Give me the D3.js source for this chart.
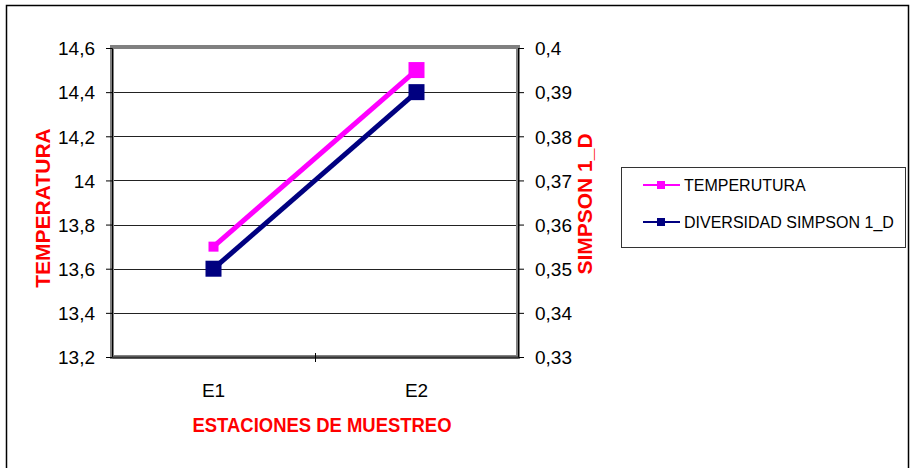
<!DOCTYPE html>
<html>
<head>
<meta charset="utf-8">
<script src="https://cdn.jsdelivr.net/npm/d3@7"></script>
<style>
  html, body { margin: 0; padding: 0; background: #fff; }
  svg { display: block; font-family: "Liberation Sans", Arial, sans-serif; }
</style>
</head>
<body>
<svg id="chart" width="911" height="468"></svg>
<script>
// Sampling stations and measured values
const stations = ["E1", "E2"];
const temperatura = [13.7, 14.5];
const simpson = [0.35, 0.39];
const leftTicks = [13.2, 13.4, 13.6, 13.8, 14.0, 14.2, 14.4, 14.6];
const rightTicks = [0.33, 0.34, 0.35, 0.36, 0.37, 0.38, 0.39, 0.40];
const seriesNames = ["TEMPERUTURA", "DIVERSIDAD SIMPSON 1_D"];

// Presentation
const pink = "#FF00FF", navy = "#000080";
const pinkMarker = [10, 16];
const navyMarker = [16, 16];
const fmt = v => d3.format("")(+v.toFixed(2)).replace(".", ",");

const svg = d3.select("#chart");
const plot = { left: 112, right: 518, top: 48, bottom: 357 };

// outer chart border
svg.append("rect").attr("x", 6.5).attr("y", 5.5).attr("width", 902).attr("height", 470)
  .attr("fill", "none").attr("stroke", "#000").attr("stroke-width", 1.5);

const x = d3.scaleBand().domain(stations).range([plot.left, plot.right]);
const yL = d3.scaleLinear().domain([13.2, 14.6]).range([plot.bottom, plot.top]);
const yR = d3.scaleLinear().domain([0.33, 0.40]).range([plot.bottom, plot.top]);

// gridlines
svg.append("g").selectAll("line").data(leftTicks.slice(1, -1)).join("line")
  .attr("x1", plot.left).attr("x2", plot.right)
  .attr("y1", d => Math.round(yL(d)) + 0.5).attr("y2", d => Math.round(yL(d)) + 0.5)
  .attr("stroke", "#222").attr("stroke-width", 1);

// plot frame
svg.append("rect").attr("x", plot.left).attr("y", plot.top - 1)
  .attr("width", plot.right - plot.left).attr("height", plot.bottom - plot.top + 1)
  .attr("fill", "none").attr("stroke", "#808080").attr("stroke-width", 4);

// left axis
const leftAxis = svg.append("g").attr("transform", `translate(${plot.left},0)`)
  .call(d3.axisLeft(yL).tickValues(leftTicks).tickSize(6).tickFormat(fmt));
leftAxis.select(".domain").attr("stroke", "#000");
leftAxis.selectAll(".tick line").attr("stroke", "#000").attr("x2", -6);
leftAxis.selectAll(".tick text").attr("font-size", 19).attr("font-family", "Liberation Sans, Arial, sans-serif")
  .attr("x", -17).attr("dy", "0.36em").attr("fill", "#000");

// right axis
const rightAxis = svg.append("g").attr("transform", `translate(${plot.right},0)`)
  .call(d3.axisRight(yR).tickValues(rightTicks).tickSize(6).tickFormat(fmt));
rightAxis.select(".domain").attr("stroke", "#000");
rightAxis.selectAll(".tick line").attr("stroke", "#000");
rightAxis.selectAll(".tick text").attr("font-size", 19).attr("font-family", "Liberation Sans, Arial, sans-serif")
  .attr("x", 17).attr("dy", "0.36em").attr("fill", "#000");

// bottom axis
const bottomAxis = svg.append("g").attr("transform", `translate(0,${plot.bottom})`)
  .call(d3.axisBottom(x).tickSize(0).tickPadding(0));
bottomAxis.select(".domain").attr("stroke", "#333").attr("stroke-width", 2);
bottomAxis.selectAll(".tick text").attr("font-size", 19).attr("font-family", "Liberation Sans, Arial, sans-serif")
  .attr("y", 40).attr("dy", 0).attr("fill", "#000");
// category divider tick
svg.append("line").attr("x1", x("E2") + 0.5).attr("x2", x("E2") + 0.5)
  .attr("y1", plot.bottom - 4).attr("y2", plot.bottom + 5).attr("stroke", "#000");

// series
const cx = d => x(d) + x.bandwidth() / 2;
const lineL = d3.line().x((d, i) => cx(stations[i])).y(d => yL(d));
const lineR = d3.line().x((d, i) => cx(stations[i])).y(d => yR(d));

svg.append("path").datum(temperatura).attr("d", lineL)
  .attr("fill", "none").attr("stroke", pink).attr("stroke-width", 5);
svg.append("g").selectAll("rect").data(temperatura).join("rect")
  .attr("x", (d, i) => cx(stations[i]) - pinkMarker[i] / 2)
  .attr("y", (d, i) => yL(d) - pinkMarker[i] / 2)
  .attr("width", (d, i) => pinkMarker[i]).attr("height", (d, i) => pinkMarker[i])
  .attr("fill", pink);

svg.append("path").datum(simpson).attr("d", lineR)
  .attr("fill", "none").attr("stroke", navy).attr("stroke-width", 5);
svg.append("g").selectAll("rect").data(simpson).join("rect")
  .attr("x", (d, i) => cx(stations[i]) - navyMarker[i] / 2)
  .attr("y", (d, i) => yR(d) - navyMarker[i] / 2)
  .attr("width", (d, i) => navyMarker[i]).attr("height", (d, i) => navyMarker[i])
  .attr("fill", navy);

// axis titles
svg.append("text").attr("transform", "translate(50,208) rotate(-90)")
  .attr("text-anchor", "middle").attr("font-size", 21).attr("font-weight", "bold")
  .attr("fill", "#FF0000").text("TEMPERATURA");
svg.append("text").attr("transform", "translate(592,204) rotate(-90)")
  .attr("text-anchor", "middle").attr("font-size", 21).attr("font-weight", "bold")
  .attr("fill", "#FF0000").text("SIMPSON 1_D");
svg.append("text").attr("x", 322).attr("y", 432)
  .attr("text-anchor", "middle").attr("font-size", 20).attr("font-weight", "bold")
  .attr("textLength", 259).attr("lengthAdjust", "spacingAndGlyphs")
  .attr("fill", "#FF0000").text("ESTACIONES DE MUESTREO");

// legend
const legend = svg.append("g");
legend.append("rect").attr("x", 621.5).attr("y", 167.5).attr("width", 284).attr("height", 80)
  .attr("fill", "#fff").attr("stroke", "#333").attr("stroke-width", 1);
const legendColors = [pink, navy];
const legendY = [185, 222];
seriesNames.forEach((name, i) => {
  legend.append("line").attr("x1", 643).attr("x2", 680)
    .attr("y1", legendY[i]).attr("y2", legendY[i])
    .attr("stroke", legendColors[i]).attr("stroke-width", 2);
  legend.append("rect").attr("x", 657).attr("y", legendY[i] - 4)
    .attr("width", 8).attr("height", 8).attr("fill", legendColors[i]);
  legend.append("text").attr("x", 684).attr("y", legendY[i] + 6)
    .attr("font-size", 16).attr("fill", "#000").text(name);
});
</script>
</body>
</html>
